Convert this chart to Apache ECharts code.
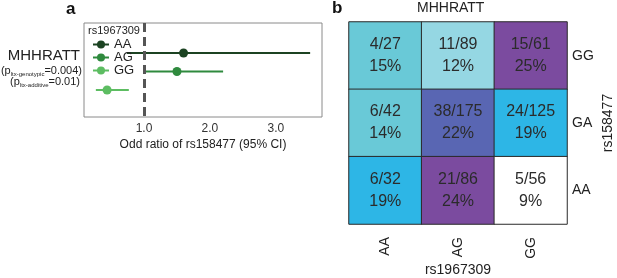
<!DOCTYPE html>
<html>
<head>
<meta charset="utf-8">
<script src="https://cdn.jsdelivr.net/npm/echarts@6/dist/echarts.min.js"></script>
<style>
html,body{margin:0;padding:0;background:#fff;}
#chart{width:617px;height:278px;}
</style>
</head>
<body>
<div id="chart"></div>
<script>
// panel a: odds ratio by rs1967309 genotype
var genoA = ['AA', 'AG', 'GG'];
var orVal = [1.6, 1.5, 0.44];
var ciLow = [0.74, 1.0, 0.27];
var ciHigh = [3.52, 2.2, 0.77];
var genoColors = ['#1c4322', '#2f8a3e', '#5dbd62'];
var xTicks = [1, 2, 3];

// panel b: MHHRATT cases / total by genotype combination
var colGeno = ['AA', 'AG', 'GG'];      // rs1967309
var rowGeno = ['AA', 'GA', 'GG'];      // rs158477, bottom to top
var cellCol = [0, 1, 2, 0, 1, 2, 0, 1, 2];
var cellRow = [2, 2, 2, 1, 1, 1, 0, 0, 0];
var cellCases = [4, 11, 15, 6, 38, 24, 6, 21, 5];
var cellTotal = [27, 89, 61, 42, 175, 125, 32, 86, 56];
var cellPct = [15, 12, 25, 14, 22, 19, 19, 24, 9];

var font = 'Liberation Sans, Arial, sans-serif';
var myChart = echarts.init(document.getElementById('chart'));

var series = [];
//CI lines with the point as the only visible symbol
genoA.forEach(function(g, i) {
	series.push({
		name: g,
		type: 'line',
		xAxisIndex: 0,
		yAxisIndex: 0,
		symbol: 'circle',
		symbolSize: 9,
		color: genoColors[i],
		lineStyle: {width: 2, color: genoColors[i]},
		itemStyle: {color: genoColors[i]},
		silent: true,
		animation: false,
		data: [
			{value: [ciLow[i], i], symbolSize: 0},
			{value: [orVal[i], i]},
			{value: [ciHigh[i], i], symbolSize: 0}
		],
		markLine: i === 0 ? {
			silent: true,
			symbol: 'none',
			label: {show: false},
			lineStyle: {color: '#555', type: [9, 5], width: 3},
			data: [{xAxis: 1}]
		} : undefined
	});
});

var heatData = [];
for (var k = 0; k < cellCases.length; k++) {
	heatData.push([cellCol[k], cellRow[k], cellPct[k], cellCases[k], cellTotal[k]]);
}
series.push({
	type: 'heatmap',
	xAxisIndex: 1,
	yAxisIndex: 1,
	data: heatData,
	itemStyle: {borderColor: '#2a2a2a', borderWidth: 1},
	label: {
		show: true,
		fontFamily: font,
		fontSize: 16,
		color: '#2b2b2b',
		lineHeight: 22,
		formatter: function(p) {
			return p.data[3] + '/' + p.data[4] + '\n' + p.data[2] + '%';
		}
	},
	emphasis: {disabled: true}
});

var option = {
	animation: false,
	textStyle: {fontFamily: font},
	grid: [
		{left: 84, top: 23, width: 238, height: 94, show: true, borderColor: '#8a8a8a', borderWidth: 1,
			backgroundColor: 'transparent', outerBoundsMode: 'none'},
		{left: 349, top: 22, width: 218, height: 202, outerBoundsMode: 'none'}
	],
	xAxis: [
		{
			type: 'value', gridIndex: 0, min: 0.09, max: 3.7,
			splitLine: {show: false},
			axisLine: {show: false},
			axisTick: {show: false},
			axisLabel: {
				customValues: xTicks, fontSize: 12, color: '#333', margin: 6,
				formatter: function(v) { return v.toFixed(1); }
			},
			name: 'Odd ratio of rs158477 (95% CI)',
			nameLocation: 'middle',
			nameGap: 22,
			nameTextStyle: {fontSize: 12, color: '#222'}
		},
		{
			type: 'category', gridIndex: 1, data: colGeno, position: 'bottom',
			axisLine: {show: false}, axisTick: {show: false}, splitArea: {show: false},
			axisLabel: {rotate: 90, fontSize: 14, color: '#222', margin: 13},
			name: 'rs1967309', nameLocation: 'middle', nameGap: 39, nameMoveOverlap: false,
			nameTextStyle: {fontSize: 14, color: '#222'}
		}
	],
	yAxis: [
		{
			type: 'value', gridIndex: 0, inverse: true, min: -1.62, max: 3.46, show: false
		},
		{
			type: 'category', gridIndex: 1, data: rowGeno, position: 'right',
			axisLine: {show: false}, axisTick: {show: false}, splitArea: {show: false},
			axisLabel: {fontSize: 14, color: '#222', margin: 5},
			name: 'rs158477', nameLocation: 'middle', nameGap: 34, nameRotate: 90,
			nameTextStyle: {fontSize: 14, color: '#222'}
		}
	],
	visualMap: {
		type: 'piecewise',
		show: false,
		seriesIndex: 3,
		dimension: 2,
		pieces: [
			{lte: 10, color: '#ffffff'},
			{gt: 10, lte: 13, color: '#95d7e3'},
			{gt: 13, lte: 16, color: '#69c9d7'},
			{gt: 16, lte: 20, color: '#2db6e6'},
			{gt: 20, lte: 23, color: '#5966b3'},
			{gt: 23, color: '#7b4b9f'}
		]
	},
	legend: {
		orient: 'vertical',
		left: 87,
		top: 33,
		itemWidth: 16,
		itemHeight: 10,
		itemGap: 0,
		data: genoA,
		textStyle: {fontSize: 13, color: '#222'},
		selectedMode: false
	},
	graphic: [
		{type: 'text', left: 66, top: 1, style: {text: 'a', font: 'bold 17px ' + font, fill: '#111'}},
		{type: 'text', left: 332, top: 0, style: {text: 'b', font: 'bold 17px ' + font, fill: '#111'}},
		{type: 'text', left: 88, top: 25, style: {text: 'rs1967309', font: '11px ' + font, fill: '#222'}},
		{type: 'text', left: 417, top: 1, style: {text: 'MHHRATT', font: '14px ' + font, fill: '#222'}},
		{type: 'text', x: 80, y: 48, style: {text: 'MHHRATT', font: '15px ' + font, fill: '#222', align: 'right'}},
		{type: 'text', x: 82, y: 65, style: {
			text: '(p{s|ltx-genotypic}=0.004)', font: '11px ' + font, fill: '#222', align: 'right',
			rich: {s: {fontSize: 6, verticalAlign: 'bottom', fill: '#222', padding: [6, 0, 0, 0]}}
		}},
		{type: 'text', x: 80, y: 76, style: {
			text: '(p{s|ltx-additive}=0.01)', font: '11px ' + font, fill: '#222', align: 'right',
			rich: {s: {fontSize: 6, verticalAlign: 'bottom', fill: '#222', padding: [6, 0, 0, 0]}}
		}}
	],
	series: series
};
myChart.setOption(option);
</script>
</body>
</html>
